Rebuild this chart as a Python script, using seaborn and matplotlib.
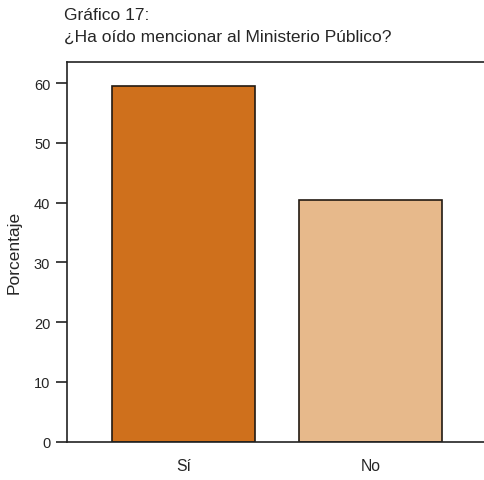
import numpy as np
import pandas as pd
import matplotlib
matplotlib.use("Agg")
import matplotlib.pyplot as plt
import seaborn as sns

categorias = ["Sí", "No"]
porcentajes = [59.6, 40.4]
colores = ["#CF701C", "#E7B98B"]

df = pd.DataFrame({"respuesta": categorias, "porcentaje": porcentajes})

sns.set_style("white")
plt.rcParams["font.family"] = ["Liberation Sans", "DejaVu Sans"]

fig = plt.figure(figsize=(4.84, 4.81), dpi=100)
ax = fig.add_axes([67/484, 1 - 442.7/481, 1 - 67/484, (442.7 - 62.7)/481])

sns.barplot(data=df, x="respuesta", y="porcentaje", hue="respuesta",
            palette=colores, saturation=1, width=0.763, edgecolor="#231a12",
            linewidth=1.2, legend=False, ax=ax)

ax.set_xlim(-0.621, 1.603)
ax.set_ylim(0, 63.6)
ax.set_yticks(range(0, 61, 10))
ax.tick_params(axis="y", length=8, width=1.2, color="#222222", labelsize=10.5, pad=4, left=True)
ax.tick_params(axis="x", length=0, labelsize=11.3, pad=12)
ax.set_xlabel("")
ax.set_ylabel("Porcentaje", fontsize=12.5, labelpad=9)
for s in ["left", "bottom", "top"]:
    ax.spines[s].set_color("#222222")
    ax.spines[s].set_linewidth(1.2)
ax.spines["right"].set_visible(False)

fig.text(64/484, 1 - 15/481, "Gráfico 17:", fontsize=12.5, va="center", ha="left")
fig.text(64/484, 1 - 37/481, "¿Ha oído mencionar al Ministerio Público?", fontsize=12.5,
         va="center", ha="left")

fig.savefig("out.png", dpi=100)
